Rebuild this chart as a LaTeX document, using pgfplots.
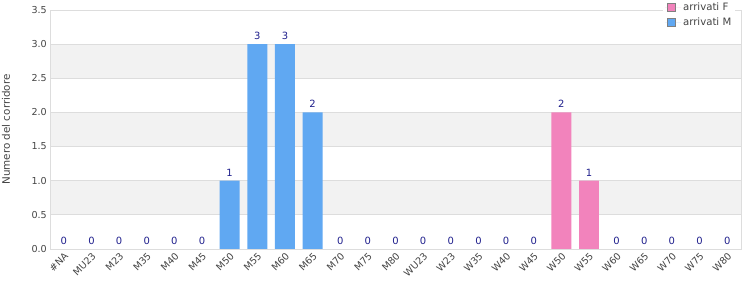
\documentclass[border=0pt]{standalone}
\usepackage{pgfplots}
\pgfplotsset{compat=1.18}
\usepackage{fontspec}
\setmainfont{DejaVu Sans}
\definecolor{barM}{HTML}{60A8F2}
\definecolor{barF}{HTML}{F283BC}
\definecolor{lab}{HTML}{1F1F8C}
\definecolor{gridc}{HTML}{DDDDDD}
\definecolor{band}{HTML}{F2F2F2}
\definecolor{txt}{HTML}{444444}
\begin{document}
\begin{tikzpicture}
\begin{axis}[
  at={(0,0)}, anchor=south west,
  scale only axis, width=691bp, height=239bp,
  set layers,
  xmin=-0.5, xmax=24.5, ymin=0, ymax=3.5,
  xtick={0,...,24},
  xticklabels={\#NA,MU23,M23,M35,M40,M45,M50,M55,M60,M65,M70,M75,M80,WU23,W23,W35,W40,W45,W50,W55,W60,W65,W70,W75,W80},
  ytick={0,0.5,...,3.5},
  yticklabel style={inner xsep=3pt, /pgf/number format/.cd, fixed, fixed zerofill, precision=1},
  /pgf/number format/assume math mode=true,
  ticklabel style={font=\fontsize{9.6}{11}\selectfont, text=txt},
  xticklabel style={rotate=45, anchor=north east, inner sep=2pt},
  major tick length=0pt,
  ymajorgrids, grid style={gridc, line width=0.8pt},
  axis line style={gridc, line width=0.8pt},
  ylabel={Numero del corridore},
  every axis y label/.style={at={(rel axis cs:0,0.5)}, rotate=90, anchor=center, yshift=44bp,
    font=\fontsize{10.4}{12}\selectfont, text=txt},
  ybar, bar width=0.72,
  legend style={at={(rel axis cs:0.992,1.042)}, anchor=north east, draw=none, fill=white,
    font=\fontsize{10.2}{12}\selectfont, text=txt, row sep=1.5pt, inner xsep=2pt, inner ysep=1pt},
  legend cell align=left,
  legend image code/.code={\draw[#1, draw=gray, line width=0.6pt] (2bp,-4bp) rectangle (10bp,4bp); \path (0bp,0bp) -- (16bp,0bp);},
  nodes near coords style={font=\fontsize{10}{12}\selectfont, text=lab, anchor=south, yshift=1pt},
]
\pgfplotsextra{%
\begin{pgfonlayer}{axis background}
\fill[band] (axis cs:-0.5,0.5) rectangle (axis cs:24.5,1);
\fill[band] (axis cs:-0.5,1.5) rectangle (axis cs:24.5,2);
\fill[band] (axis cs:-0.5,2.5) rectangle (axis cs:24.5,3);
\end{pgfonlayer}}
\addplot[fill=barF, draw=none, bar shift=0pt, nodes near coords] coordinates {(18,2) (19,1)};
\addlegendentry{arrivati F}
\addplot[fill=barM, draw=none, bar shift=0pt, nodes near coords] coordinates {(6,1) (7,3) (8,3) (9,2)};
\addlegendentry{arrivati M}
\addplot[draw=none, fill=none, bar shift=0pt, nodes near coords, forget plot] coordinates {
(0,0) (1,0) (2,0) (3,0) (4,0) (5,0)
(10,0) (11,0) (12,0) (13,0) (14,0) (15,0) (16,0) (17,0)
(20,0) (21,0) (22,0) (23,0) (24,0)};
\end{axis}
\pgfresetboundingbox
\useasboundingbox (-50bp,-51bp) rectangle (700bp,249bp);
\end{tikzpicture}
\end{document}
